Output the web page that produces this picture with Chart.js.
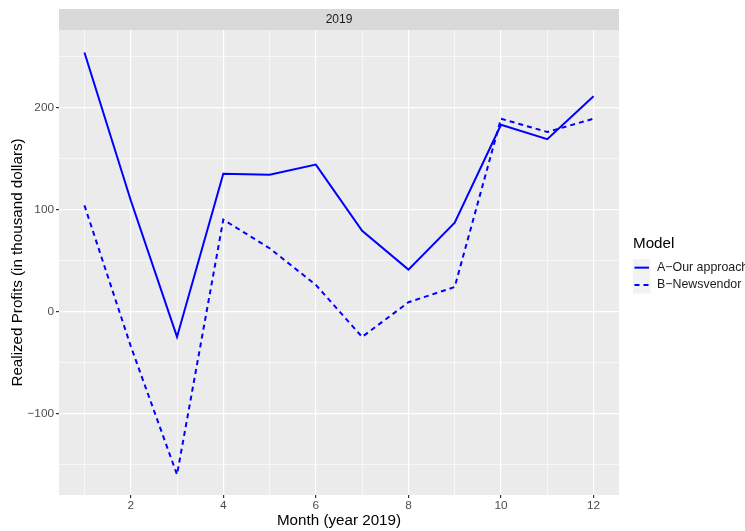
<!DOCTYPE html>
<html>
<head>
<meta charset="utf-8">
<script src="https://cdn.jsdelivr.net/npm/chart.js@4"></script>
<style>
  body { margin: 0; background: #fff; }
  #wrap { width: 745px; height: 531px; }
</style>
</head>
<body>
<div id="wrap"><canvas id="profits" width="745" height="531"></canvas></div>
<script>
// values (thousand dollars)
var months = [1, 2, 3, 4, 5, 6, 7, 8, 9, 10, 11, 12];
var ourApproach = [254, 109, -25, 135, 134, 144, 79, 41, 87, 183, 169, 211];
var newsvendor = [104, -34, -160, 90, 62, 26, -25, 9, 24, 189, 176, 189];
var yTicks = [-150, -100, -50, 0, 50, 100, 150, 200, 250];
var seriesNames = ["A\u2212Our approach", "B\u2212Newsvendor"];

var FONT = "'Liberation Sans', Arial, sans-serif";

function toPoints(vals) {
  return months.map(function (m, i) { return { x: m, y: vals[i] }; });
}
function fmt(v) {
  return v < 0 ? "\u2212" + Math.abs(v) : String(v);
}

// grey panel + facet strip behind the chart
var panelPlugin = {
  id: "panel",
  beforeDraw: function (chart) {
    var c = chart.ctx, a = chart.chartArea;
    c.save();
    c.fillStyle = "#EBEBEB";
    c.fillRect(a.left, a.top, a.right - a.left, a.bottom - a.top);
    c.fillStyle = "#D9D9D9";
    c.fillRect(a.left, 9, a.right - a.left, a.top - 9);
    c.fillStyle = "#1A1A1A";
    c.font = "12px " + FONT;
    c.textAlign = "center";
    c.textBaseline = "middle";
    c.fillText("2019", (a.left + a.right) / 2, 19.5);
    c.restore();
  }
};

// ggplot style legend at the right
var legendPlugin = {
  id: "ggLegend",
  afterDraw: function (chart) {
    var c = chart.ctx;
    c.save();
    c.fillStyle = "#000";
    c.font = "15.2px " + FONT;
    c.textBaseline = "middle";
    c.fillText("Model", 633, 243.5);
    var dashes = [[], [5, 4]];
    for (var i = 0; i < seriesNames.length; i++) {
      var top = 259 + i * 17.3;
      c.fillStyle = "#F2F2F2";
      c.fillRect(633, top, 17.3, 17.3);
      c.strokeStyle = "#0000FF";
      c.lineWidth = 2;
      c.setLineDash(dashes[i]);
      c.beginPath();
      c.moveTo(634.5, top + 8.65);
      c.lineTo(649, top + 8.65);
      c.stroke();
      c.setLineDash([]);
      c.fillStyle = "#1A1A1A";
      c.font = "12.4px " + FONT;
      c.fillText(seriesNames[i], 657, top + 8.65);
    }
    c.restore();
  }
};

new Chart(document.getElementById("profits"), {
  type: "line",
  data: {
    datasets: [{
      label: seriesNames[0],
      data: toPoints(ourApproach),
      borderColor: "#0000FF",
      borderWidth: 2,
      pointRadius: 0,
      tension: 0,
      fill: false
    }, {
      label: seriesNames[1],
      data: toPoints(newsvendor),
      borderColor: "#0000FF",
      borderWidth: 2,
      borderDash: [5, 4],
      pointRadius: 0,
      tension: 0,
      fill: false
    }]
  },
  options: {
    responsive: false,
    animation: false,
    layout: { padding: { left: 0, top: 30, right: 126, bottom: 0 } },
    plugins: { legend: { display: false }, tooltip: { enabled: false } },
    scales: {
      x: {
        type: "linear",
        min: 0.45,
        max: 12.55,
        afterFit: function (s) { s.height = 36; },
        afterBuildTicks: function (s) {
          s.ticks = months.map(function (m) { return { value: m }; });
        },
        border: { display: false },
        grid: {
          color: "#FFFFFF",
          lineWidth: function (ctx) { return ctx.tick && ctx.tick.value % 2 === 0 ? 1.2 : 0.6; },
          tickColor: function (ctx) { return ctx.tick && ctx.tick.value % 2 === 0 ? "#333333" : "rgba(0,0,0,0)"; },
          tickLength: 3
        },
        ticks: {
          autoSkip: false,
          maxRotation: 0,
          padding: 1,
          color: "#4D4D4D",
          font: { family: FONT, size: 11.8 },
          callback: function (v) { return v % 2 === 0 ? String(v) : ""; }
        },
        title: {
          display: true,
          text: "Month (year 2019)",
          color: "#000",
          font: { family: FONT, size: 15.2 },
          padding: { top: 0, bottom: 1 }
        }
      },
      y: {
        min: -180,
        max: 276,
        afterFit: function (s) { s.width = 59; },
        afterBuildTicks: function (s) {
          s.ticks = yTicks.map(function (v) { return { value: v }; });
        },
        border: { display: false },
        grid: {
          color: "#FFFFFF",
          lineWidth: function (ctx) { return ctx.tick && ctx.tick.value % 100 === 0 ? 1.2 : 0.6; },
          tickColor: function (ctx) { return ctx.tick && ctx.tick.value % 100 === 0 ? "#333333" : "rgba(0,0,0,0)"; },
          tickLength: 3
        },
        ticks: {
          autoSkip: false,
          padding: 2,
          color: "#4D4D4D",
          font: { family: FONT, size: 11.8 },
          callback: function (v) { return v % 100 === 0 ? fmt(v) : ""; }
        },
        title: {
          display: true,
          text: "Realized Profits (in thousand dollars)",
          color: "#000",
          font: { family: FONT, size: 15.2 },
          padding: { top: 8.5, bottom: 0 }
        }
      }
    }
  },
  plugins: [panelPlugin, legendPlugin]
});
</script>
</body>
</html>
